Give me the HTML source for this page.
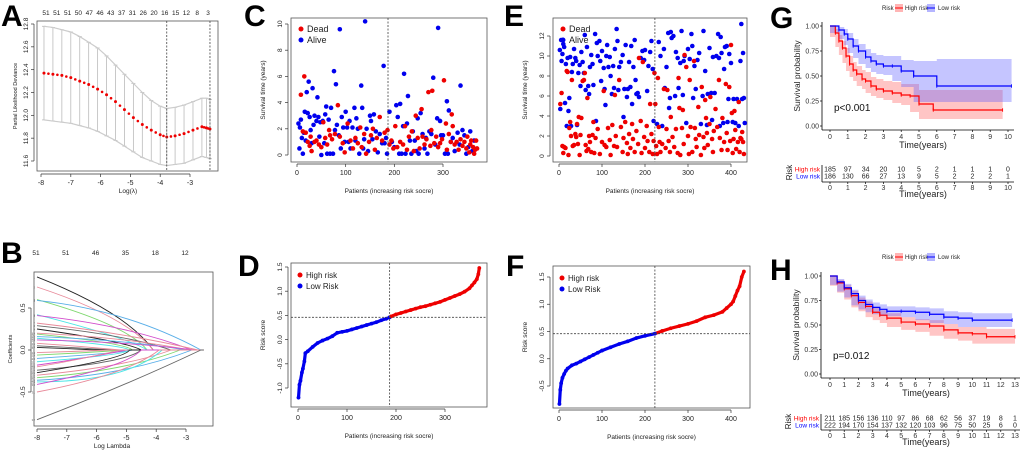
<!DOCTYPE html>
<html><head><meta charset="utf-8"><style>
html,body{margin:0;padding:0;background:#fff;width:1020px;height:450px;overflow:hidden}
svg{display:block;font-family:"Liberation Sans",Arial,sans-serif}
</style></head><body>
<svg id="fig" width="1020" height="450" viewBox="0 0 1020 450"></svg>
<script>
// ---------- DATA ----------
const lamA=[-7.9,-7.6,-7.3,-7.0,-6.7,-6.4,-6.1,-5.8,-5.5,-5.2,-4.9,-4.6,-4.3,-4.0,-3.78,-3.5,-3.2,-2.9,-2.6,-2.45,-2.33];
const meanA=[12.37,12.36,12.35,12.33,12.3,12.27,12.23,12.18,12.12,12.05,11.98,11.92,11.87,11.83,11.81,11.82,11.84,11.87,11.9,11.89,11.88];
const upA=[12.78,12.77,12.75,12.73,12.69,12.64,12.59,12.52,12.44,12.36,12.28,12.2,12.13,12.08,12.06,12.07,12.09,12.12,12.15,12.15,12.14];
const loA=[11.96,11.95,11.94,11.93,11.91,11.89,11.86,11.82,11.78,11.73,11.68,11.63,11.6,11.57,11.56,11.57,11.58,11.61,11.64,11.63,11.62];
const dfA=["51","51","51","50","47","46","43","37","31","26","20","16","15","12","8","3"];
const vlinesA=[-3.78,-2.33];
const startB=[0.87,0.75,0.6,0.59,0.42,0.41,0.32,0.29,0.25,0.2,0.19,0.16,0.14,0.12,0.08,0.05,0.03,-0.03,-0.06,-0.1,-0.14,-0.18,-0.2,-0.24,-0.27,-0.3,-0.33,-0.36,-0.38,-0.41,-0.5,-0.83];
const midB=[0.45,0.4,0.3,0.48,0.15,0.3,0.2,0.18,0.1,0.15,0.08,0.12,0.05,0.1,0.03,0.02,0,0,-0.02,-0.03,-0.06,-0.05,-0.04,-0.15,-0.1,-0.2,-0.25,-0.3,-0.38,-0.2,-0.3,-0.42];
const zeroB=[-4.1,-4.1,-4.3,-2.5,-4.3,-2.8,-2.6,-3.5,-4.5,-2.9,-4.8,-3,-4.9,-2.7,-5.2,-5.5,-6,-5.5,-5,-4.8,-4.9,-5,-5.2,-4.5,-4.9,-3.5,-3.2,-2.8,-3.8,-4.5,-3.9,-2.5];
const dfB=["51","51","46","35","18","12"];
const cAlive=[3,2.4,5,0.5,6,2.1,8,2.7,10,1.3,12,0.1,14,1.7,16,3.3,18,1.1,20,4.8,22,3.2,24,5.6,26,2.9,28,1.9,30,0.9,32,5.1,34,2.3,36,3.0,40,2.6,42,4.4,44,2.9,46,1.4,48,2.5,50,0.0,53,2.6,56,0.9,58,3.1,60,3.7,62,0.1,65,2.7,68,0.1,70,3.6,74,0.1,76,6.4,78,1.9,80,5.4,82,2.3,86,1.5,88,9.6,90,0.5,92,2.9,95,2.1,98,1.0,100,3.3,103,2.1,106,1.0,108,2.6,110,0.5,114,2.1,118,3.6,120,1.1,122,2.8,125,2.0,128,0.1,132,5.3,134,3.6,136,0.5,138,1.2,140,10.2,143,2.0,146,0.3,150,3.0,152,2.6,155,1.2,158,3.1,162,1.8,166,0.2,170,1.6,175,0.9,178,6.8,180,0.9,183,1.3,185,0.1,190,3.3,195,1.0,200,0.6,204,3.8,207,2.9,210,0.1,212,3.9,215,0.1,218,2.2,220,6.2,223,0.1,226,2.4,228,4.5,232,1.1,235,0.1,238,1.8,242,1.1,245,0.3,248,2.8,250,0.1,254,3.2,258,1.6,262,0.5,265,1.3,268,0.1,272,1.8,276,1.6,280,5.9,284,0.8,288,2.8,290,9.7,294,2.6,296,1.5,300,1.5,304,0.1,308,4.1,310,0.1,312,3.4,316,1.0,320,1.3,324,0.3,330,1.7,334,0.8,336,5.3,340,1.9,344,1.5,348,0.1,352,0.6,356,1.8,360,0.3,364,1.1];
const cDead=[8,4.6,12,1.8,15,6.0,18,1.7,22,1.0,26,0.7,28,1.4,30,0.3,36,1.0,40,1.1,45,0.8,50,0.6,54,2.5,58,1.3,62,0.8,66,1.9,68,1.5,72,1.2,78,1.6,84,3.8,88,1.4,94,0.9,98,0.2,104,2.4,110,1.1,115,0.5,120,1.3,125,0.9,130,2.1,133,0.6,138,1.6,142,0.1,148,1.0,152,1.5,156,2.0,160,0.4,164,1.3,170,2.9,175,1.1,180,1.7,186,1.9,190,0.8,194,1.1,198,0.5,202,2.2,206,0.6,212,1.0,218,0.8,222,2.2,226,0.4,230,1.4,236,1.8,240,0.3,244,3.0,248,1.3,252,0.5,256,3.5,258,1.4,262,0.8,266,1.2,270,4.8,274,0.7,276,1.9,278,4.9,282,0.9,286,1.4,290,0.6,294,0.9,298,1.2,302,5.7,306,2.4,308,0.4,312,1.6,316,1.0,318,3.1,320,2.2,324,0.8,328,1.0,332,0.4,336,1.2,340,0.7,344,1.0,348,0.5,350,1.4,354,0.2,356,0.8,358,1.1,362,0.6,364,0.1,366,0.4,368,1.1,370,0.5];
const eAlive=[2,10.6,3,4.7,5,11.6,6,9.5,8,10.2,10,11.2,12,10.9,14,5.3,16,9.2,18,3.0,20,9.8,22,4.5,24,5.8,26,9.9,28,3.0,30,8.4,32,9.2,35,10.7,38,9.8,40,9.5,42,3.1,45,8.3,48,9.1,50,7.0,52,10.4,55,9.4,58,8.3,60,12.1,62,6.6,65,10.9,68,7.0,70,6.2,72,8.9,75,10.1,78,9.2,80,7.1,84,12.2,86,3.5,88,11.3,90,10.0,94,11.5,96,9.5,98,7.5,100,10.5,104,8.8,106,6.7,108,5.1,110,10.0,112,11.1,115,8.9,118,9.9,120,8.0,123,6.2,126,9.0,128,6.8,130,10.7,134,12.7,136,11.5,138,6.6,140,8.9,144,9.4,148,10.1,150,3.9,152,6.7,155,11.1,158,5.9,160,6.7,163,9.4,166,6.9,168,11.0,170,5.2,173,8.9,176,11.6,178,7.6,180,6.2,183,6.3,186,5.9,190,9.8,194,10.5,198,9.6,200,10.6,205,6.5,208,9.0,212,10.4,215,11.5,218,8.7,220,3.5,228,3.2,232,11.4,236,10.0,240,3.0,244,10.7,246,6.8,250,8.9,254,12.3,256,4.8,258,5.8,260,12.4,262,11.8,266,12.0,270,6.0,272,10.4,276,9.8,278,6.8,282,9.3,285,12.5,288,6.1,290,9.5,292,10.0,296,3.3,300,10.7,304,9.7,308,12.2,310,11.0,312,5.8,315,9.0,318,6.7,322,9.6,326,10.3,330,3.2,334,6.0,336,12.5,340,8.5,344,3.1,346,6.2,350,10.8,354,6.3,356,3.6,358,9.9,362,6.3,366,10.0,370,12.2,372,9.8,374,3.0,376,11.9,378,10.3,382,3.3,384,8.7,386,10.9,390,11.0,392,3.4,394,5.7,396,10.2,400,9.3,404,3.4,406,5.7,410,3.3,414,5.7,418,3.0,422,9.5,424,13.2,426,5.7,428,10.3,430,5.8,432,3.3];
const eDead=[3,5.2,6,6.3,8,1.0,10,0.3,12,0.9,15,0.8,18,8.5,20,8.4,22,0.1,24,2.8,26,3.4,28,2.0,30,7.6,32,1.0,35,1.1,38,2.2,40,1.9,42,3.2,44,1.2,46,3.9,48,0.1,50,2.1,52,3.8,55,7.5,58,7.6,60,8.3,62,1.1,64,0.5,66,5.8,68,0.7,70,2.0,72,1.4,75,0.4,78,2.1,80,3.4,82,0.3,85,1.8,90,2.7,95,0.2,100,1.4,104,6.5,106,1.1,110,0.9,114,2.8,118,1.6,120,0.1,124,3.1,128,1.0,130,6.1,132,2.0,135,0.9,140,7.6,144,2.9,148,0.4,150,1.8,154,3.4,158,1.3,160,0.2,163,2.2,166,0.8,170,3.2,172,1.7,176,0.4,180,2.5,184,1.2,186,9.8,190,3.5,192,0.3,195,9.4,198,1.9,200,0.8,204,3.0,206,1.5,210,0.4,212,5.2,215,2.2,218,0.2,220,1.5,222,8.3,224,5.2,226,1.0,228,0.2,230,7.8,232,2.9,234,1.4,236,0.4,240,1.2,244,6.7,248,0.8,250,2.7,252,6.6,255,1.5,258,0.4,260,3.9,264,1.9,268,0.9,272,2.7,276,0.3,278,7.8,280,4.8,282,0.1,286,2.8,288,4.6,290,1.2,292,10.1,296,8.9,300,2.0,302,0.2,304,7.6,306,2.9,310,0.4,314,9.5,316,2.8,318,1.7,320,0.9,324,4.9,326,2.1,330,0.1,332,6.9,336,1.9,338,0.8,340,5.6,342,3.8,344,2.3,346,1.1,350,3.2,352,5.9,356,1.7,358,0.4,360,2.5,364,4.7,368,2.9,372,7.6,374,1.8,378,0.6,380,3.8,384,1.4,388,7.2,390,2.3,392,0.6,396,6.9,398,1.5,400,11.1,402,4.3,404,0.3,406,1.7,408,4.5,410,2.6,412,0.7,416,1.4,418,5.4,420,0.4,422,1.8,424,1.7,426,2.4,428,1.4,430,0.2];
const dIdx=[1,3,5,8,10,13,15,20,30,40,50,60,70,80,90,100,110,120,130,140,150,160,170,180,187,190,200,210,220,230,240,250,260,270,280,290,300,310,320,330,340,350,355,360,365,368,370];
const dVal=[-1.2,-0.93,-0.85,-0.68,-0.6,-0.45,-0.28,-0.24,-0.15,-0.07,-0.02,0.02,0.07,0.14,0.16,0.18,0.21,0.24,0.27,0.3,0.33,0.36,0.40,0.43,0.46,0.48,0.52,0.55,0.58,0.61,0.64,0.67,0.69,0.72,0.75,0.78,0.82,0.86,0.90,0.94,0.99,1.06,1.12,1.18,1.25,1.35,1.48];
const dCut=187, dThr=0.46;
const fIdx=[1,3,5,8,12,16,20,30,40,50,60,70,80,90,100,120,140,160,180,200,223,240,260,280,300,320,340,360,380,390,400,405,410,415,420,425,430];
const fVal=[-0.83,-0.57,-0.45,-0.35,-0.28,-0.22,-0.18,-0.12,-0.09,-0.05,-0.01,0.03,0.07,0.11,0.15,0.21,0.27,0.32,0.38,0.42,0.46,0.51,0.56,0.60,0.64,0.69,0.76,0.80,0.86,0.93,1.0,1.05,1.15,1.25,1.33,1.5,1.6];
const fCut=223, fThr=0.46;
const gHiT=[0,0.3,0.5,0.7,0.9,1.1,1.3,1.5,1.8,2,2.3,2.6,3,3.5,4,4.5,5,5.8,9.7];
const gHiS=[1,.93,.85,.78,.7,.62,.56,.52,.47,.45,.4,.37,.35,.33,.31,.3,.22,.16,.16];
const gHiU=[1,.97,.91,.85,.78,.7,.64,.6,.56,.54,.49,.47,.45,.44,.42,.42,.36,.36,.36];
const gHiL=[1,.89,.79,.71,.63,.55,.49,.45,.4,.37,.33,.3,.28,.26,.23,.21,.14,.07,.07];
const gLoT=[0,0.5,0.8,1,1.3,1.6,2,2.3,2.6,3,3.5,4,4.7,6,10.2];
const gLoS=[1,.96,.92,.87,.8,.75,.69,.65,.62,.6,.6,.55,.5,.4,.4];
const gLoU=[1,.99,.97,.93,.87,.82,.77,.73,.71,.7,.7,.66,.65,.67,.67];
const gLoL=[1,.93,.87,.81,.73,.68,.62,.58,.54,.52,.51,.45,.39,.24,.24];
const hHiT=[0,0.5,1,1.5,2,2.5,3,3.5,4,5,6,7,8,9,10,11,13];
const hHiS=[1,.93,.87,.8,.73,.69,.63,.6,.57,.53,.51,.49,.45,.42,.41,.38,.38];
const hHiU=[1,.96,.91,.85,.78,.74,.68,.65,.62,.58,.56,.55,.51,.48,.48,.46,.46];
const hHiL=[1,.9,.83,.76,.68,.64,.58,.55,.52,.48,.45,.43,.39,.36,.34,.31,.31];
const hLoT=[0,0.5,1,1.5,2,2.5,3,3.5,4,5,6,7,8,9,10,12.8];
const hLoS=[1,.94,.88,.82,.75,.71,.68,.66,.64,.64,.63,.61,.58,.57,.55,.55];
const hLoU=[1,.97,.92,.86,.8,.76,.73,.71,.69,.69,.68,.67,.64,.63,.62,.62];
const hLoL=[1,.91,.84,.78,.7,.66,.63,.61,.59,.59,.58,.55,.52,.51,.48,.48];
const gRiskHi=["185","97","34","20","10","5","2","1","1","1","0"];
const gRiskLo=["186","130","66","27","13","9","5","2","2","2","1"];
const hRiskHi=["211","185","156","136","110","97","86","68","62","56","37","19","8","1"];
const hRiskLo=["222","194","170","154","137","132","120","103","96","75","50","25","6","0"];

// ---------- HELPERS ----------
const NS="http://www.w3.org/2000/svg";
const svg=document.getElementById('fig');
function el(tag,attrs,name,parent){
  const e=document.createElementNS(NS,tag);
  for(const k in attrs) e.setAttribute(k,attrs[k]);
  
  
  (parent||svg).appendChild(e);
  return e;
}
function tx(x,y,s,size,name,o){
  o=o||{};
  const a={x:x,y:y,'font-size':size,fill:o.fill||'#222','text-anchor':o.anchor||'middle'};
  if(o.bold) a['font-weight']='bold';
  if(o.rot!==undefined) a.transform='rotate('+o.rot+' '+x+' '+y+')';
  const t=el('text',a,name);
  t.textContent=s;
  return t;
}
function lin(d0,d1,r0,r1){return v=>r0+(v-d0)*(r1-r0)/(d1-d0);}
function line(x1,y1,x2,y2,name,st,w,dash){const a={x1:x1,y1:y1,x2:x2,y2:y2,stroke:st||'#333','stroke-width':w||0.7};if(dash)a['stroke-dasharray']=dash;return el('line',a,name);}
function box(x0,y0,x1,y1,name){el('rect',{x:x0,y:y0,width:x1-x0,height:y1-y0,fill:'none',stroke:'#555','stroke-width':0.8},name);}
function rXaxis(sx,ticks,yb,name){
  line(sx(ticks[0]),yb,sx(ticks[ticks.length-1]),yb,name+'-line','#333',0.7);
  ticks.forEach(t=>{line(sx(t),yb,sx(t),yb+3,name+'-tick','#333',0.7);tx(sx(t),yb+11,String(t),7,name+'-label');});
}
function rYaxis(sy,ticks,xl,name,fmt){
  line(xl,sy(ticks[0]),xl,sy(ticks[ticks.length-1]),name+'-line','#333',0.7);
  ticks.forEach(t=>{line(xl,sy(t),xl-3,sy(t),name+'-tick','#333',0.7);tx(xl-6,sy(t),fmt?fmt(t):String(t),6.5,name+'-label',{rot:-90});});
}
function letter(x,y,s){tx(x,y,s,30,'panel-label-'+s.toLowerCase(),{bold:true,anchor:'start',fill:'#000'});}

// ---------- PANEL A ----------
(function(){
  letter(1,26,'A');
  const sx=lin(-8,-3,41,190), sy=lin(12.8,11.6,24,161);
  box(37,21,218,171,'plot-frame-a');
  for(let i=0;i<lamA.length;i++){
    const x=sx(lamA[i]);
    line(x,sy(upA[i]),x,sy(loA[i]),'error-bar','#bbb',0.8);
    line(x-2,sy(upA[i]),x+2,sy(upA[i]),'error-cap','#bbb',0.8);
    line(x-2,sy(loA[i]),x+2,sy(loA[i]),'error-cap','#bbb',0.8);
  }
  let pu='',pl='';
  for(let i=0;i<lamA.length;i++){pu+=(i?'L':'M')+sx(lamA[i])+' '+sy(upA[i]);pl+=(i?'L':'M')+sx(lamA[i])+' '+sy(loA[i]);}
  el('path',{d:pu,fill:'none',stroke:'#ccc','stroke-width':1.2},'upper-bound-a');
  el('path',{d:pl,fill:'none',stroke:'#ccc','stroke-width':1.2},'lower-bound-a');
  for(let i=0;i<lamA.length;i++){
    el('circle',{cx:sx(lamA[i]),cy:sy(meanA[i]),r:1.5,fill:'#e00'},'deviance-point');
  }
  for(let i=0;i<lamA.length-1;i++){
    const xm=(sx(lamA[i])+sx(lamA[i+1]))/2, ym=(sy(meanA[i])+sy(meanA[i+1]))/2;
    el('circle',{cx:xm,cy:ym,r:1.3,fill:'#e00'},'deviance-point');
  }
  vlinesA.forEach(v=>line(sx(v),21,sx(v),171,'lambda-line','#444',0.8,'2,1.5'));
  rXaxis(sx,[-8,-7,-6,-5,-4,-3],174,'x-axis-a');
  rYaxis(sy,[11.6,11.8,12.0,12.2,12.4,12.6,12.8],34,'y-axis-a',t=>t.toFixed(1));
  dfA.forEach((d,i)=>tx(46+i*(162/(dfA.length-1)),15,d,6.5,'df-label-a'));
  tx(128,193,'Log(λ)',6.5,'x-axis-title-a');
  tx(17,96,'Partial Likelihood Deviance',5.5,'y-axis-title-a',{rot:-90});
})();

// ---------- PANEL B ----------
(function(){
  letter(1,263,'B');
  const sx=lin(-8,-3,37,186), sy=lin(0.5,-0.5,308,392);
  box(34,272,213,426,'plot-frame-b');
  const cols=['#222','#e88a9a','#7fd86f','#58aee8','#4ee6e6','#d24dcc','#e88a9a','#666'];
  for(let i=0;i<startB.length;i++){
    const z=zeroB[i];
    const cx=z>-5?-5:(-8+z)/2, cy=z>-5?midB[i]:startB[i]*0.6;
    let d='M'+sx(-8)+' '+sy(startB[i])+' Q'+sx(cx)+' '+sy(cy)+' '+sx(z)+' '+sy(0)+' L'+sx(-2.4)+' '+sy(0);
    el('path',{d:d,fill:'none',stroke:cols[i%cols.length],'stroke-width':0.9},'coefficient-path');
    tx(sx(-8)-2,sy(startB[i])+1.5,String(i+1),3,'path-label',{anchor:'end',fill:'#666'});
  }
  rXaxis(sx,[-8,-7,-6,-5,-4,-3],429,'x-axis-b');
  rYaxis(sy,[-0.5,0,0.5],31,'y-axis-b',t=>t.toFixed(1));
  dfB.forEach((d,i)=>tx(36+i*29.8,255,d,6.5,'df-label-b'));
  tx(112,448,'Log Lambda',6.5,'x-axis-title-b');
  tx(12,349,'Coefficients',5.5,'y-axis-title-b',{rot:-90});
})();

// ---------- SCATTER PANELS C & E ----------
function scatter(o){
  letter(o.lx,o.ly,o.L);
  const sx=lin(0,o.xref,o.x0,o.x1), sy=lin(0,o.yref,o.y0,o.y1);
  box(o.bx0,o.by0,o.bx1,o.by1,'plot-frame-'+o.id);
  for(let i=0;i<o.alive.length;i+=2) el('circle',{cx:sx(o.alive[i]),cy:sy(o.alive[i+1]),r:2.3,fill:'#0000ee'},'alive-point');
  for(let i=0;i<o.dead.length;i+=2) el('circle',{cx:sx(o.dead[i]),cy:sy(o.dead[i+1]),r:2.3,fill:'#ee0000'},'dead-point');
  line(sx(o.cut),o.by0,sx(o.cut),o.by1,'cutoff-line','#444',0.8,'2,1.5');
  rXaxis(sx,o.xt,o.by1+2,'x-axis-'+o.id);
  rYaxis(sy,o.yt,o.bx0-3,'y-axis-'+o.id);
  el('circle',{cx:o.bx0+10,cy:o.by0+11,r:2.5,fill:'#ee0000'},'legend-dead-marker');
  tx(o.bx0+16,o.by0+14,'Dead',9,'legend-dead-label',{anchor:'start'});
  el('circle',{cx:o.bx0+10,cy:o.by0+22,r:2.5,fill:'#0000ee'},'legend-alive-marker');
  tx(o.bx0+16,o.by0+25,'Alive',9,'legend-alive-label',{anchor:'start'});
  tx((o.bx0+o.bx1)/2,o.by1+31,'Patients (increasing risk socre)',6.5,'x-axis-title-'+o.id);
  tx(o.bx0-26,(o.by0+o.by1)/2,'Survival time (years)',6.5,'y-axis-title-'+o.id,{rot:-90});
}
scatter({id:'c',L:'C',lx:244,ly:26,xref:300,x0:297,x1:443,yref:10,y0:155,y1:24,bx0:291,by0:18,bx1:487,by1:162,alive:cAlive,dead:cDead,cut:187,xt:[0,100,200,300],yt:[0,2,4,6,8,10]});
scatter({id:'e',L:'E',lx:504,ly:26,xref:400,x0:559,x1:731,yref:12,y0:156,y1:36,bx0:553,by0:18,bx1:747,by1:162,alive:eAlive,dead:eDead,cut:223,xt:[0,100,200,300,400],yt:[0,2,4,6,8,10,12]});

// ---------- RISK SCORE PANELS D & F ----------
function riskPlot(o){
  letter(o.lx,o.ly,o.L);
  const sx=lin(0,o.xref,o.x0,o.x1), sy=lin(o.yr[0],o.yr[1],o.y0,o.y1);
  box(o.bx0,o.by0,o.bx1,o.by1,'plot-frame-'+o.id);
  let dl='',dh='';
  for(let i=0;i<o.idx.length;i++){
    const p=sx(o.idx[i])+' '+sy(o.val[i]);
    if(o.idx[i]<=o.cut) dl+=(dl?'L':'M')+p;
    if(o.idx[i]>=o.cut) dh+=(dh?'L':'M')+p;
  }
  el('path',{d:dl,fill:'none',stroke:'#0000ee','stroke-width':3.2,'stroke-linecap':'round'},'low-risk-curve');
  el('path',{d:dh,fill:'none',stroke:'#ee0000','stroke-width':3.2,'stroke-linecap':'round'},'high-risk-curve');
  for(let i=0;i<o.idx.length;i++){
    el('circle',{cx:sx(o.idx[i]),cy:sy(o.val[i]),r:1.9,fill:o.idx[i]<=o.cut?'#0000ee':'#ee0000'},'risk-point');
  }
  line(sx(o.cut),o.by0,sx(o.cut),o.by1,'cutoff-vline','#444',0.8,'2,1.5');
  line(o.bx0,sy(o.thr),o.bx1,sy(o.thr),'cutoff-hline','#444',0.8,'2,1.5');
  rXaxis(sx,o.xt,o.by1+2,'x-axis-'+o.id);
  rYaxis(sy,o.yt,o.bx0-3,'y-axis-'+o.id,t=>t.toFixed(1));
  el('circle',{cx:o.bx0+9,cy:o.by0+12,r:2.5,fill:'#ee0000'},'legend-high-marker');
  tx(o.bx0+15,o.by0+15,'High risk',8,'legend-high-label',{anchor:'start'});
  el('circle',{cx:o.bx0+9,cy:o.by0+23,r:2.5,fill:'#0000ee'},'legend-low-marker');
  tx(o.bx0+15,o.by0+26,'Low Risk',8,'legend-low-label',{anchor:'start'});
  tx((o.bx0+o.bx1)/2,o.by1+31,'Patients (increasing risk socre)',6.5,'x-axis-title-'+o.id);
  tx(o.bx0-26,(o.by0+o.by1)/2,'Risk score',6.5,'y-axis-title-'+o.id,{rot:-90});
}
riskPlot({id:'d',L:'D',lx:238,ly:276,xref:300,x0:298,x1:445,yr:[1.5,-1.0],y0:267,y1:388,bx0:291,by0:263,bx1:487,by1:407,idx:dIdx,val:dVal,cut:dCut,thr:dThr,xt:[0,100,200,300],yt:[-1.0,-0.5,0.0,0.5,1.0,1.5]});
riskPlot({id:'f',L:'F',lx:506,ly:276,xref:400,x0:559,x1:731,yr:[1.5,-0.5],y0:277,y1:386,bx0:553,by0:266,bx1:750,by1:408,idx:fIdx,val:fVal,cut:fCut,thr:fThr,xt:[0,100,200,300,400],yt:[-0.5,0.0,0.5,1.0,1.5]});

// ---------- KM PANELS G & H ----------
function stepPath(sx,sy,T,S){let d='M'+sx(T[0])+' '+sy(S[0]);for(let i=1;i<T.length;i++){d+='H'+sx(T[i])+'V'+sy(S[i]);}return d;}
function bandPath(sx,sy,T,U,Lo){
  let d='M'+sx(T[0])+' '+sy(U[0]);
  for(let i=1;i<T.length;i++) d+='H'+sx(T[i])+'V'+sy(U[i]);
  d+='V'+sy(Lo[T.length-1]);
  for(let i=T.length-1;i>0;i--) d+='V'+sy(Lo[i])+'H'+sx(T[i-1]);
  d+='V'+sy(Lo[0])+'Z';
  return d;
}
function km(o){
  letter(o.lx,o.ly,o.L);
  const sx=lin(0,o.tmax,o.x0,o.x1), sy=lin(1,0,o.y1,o.y0);
  el('path',{d:bandPath(sx,sy,o.hiT,o.hiU,o.hiL),fill:'rgba(255,90,90,0.35)',stroke:'none'},'high-risk-ci');
  el('path',{d:bandPath(sx,sy,o.loT,o.loU,o.loL),fill:'rgba(90,90,255,0.35)',stroke:'none'},'low-risk-ci');
  el('path',{d:stepPath(sx,sy,o.hiT,o.hiS),fill:'none',stroke:'#ff0000','stroke-width':1.2},'high-risk-curve');
  el('path',{d:stepPath(sx,sy,o.loT,o.loS),fill:'none',stroke:'#0000ff','stroke-width':1.2},'low-risk-curve');
  for(let i=1;i<o.hiT.length;i++){const x=sx(o.hiT[i]),y=sy(o.hiS[i]);line(x,y-1.8,x,y+1.8,'high-censor-mark','#f00',0.8);}
  for(let i=1;i<o.loT.length;i++){const x=sx(o.loT[i]),y=sy(o.loS[i]);line(x,y-1.8,x,y+1.8,'low-censor-mark','#00f',0.8);}
  line(o.ax,o.y1-4,o.ax,o.y0+4,'y-axis-line-'+o.id,'#000',0.8);
  line(o.ax,o.y0+4,o.x1+6,o.y0+4,'x-axis-line-'+o.id,'#000',0.8);
  [0,0.25,0.5,0.75,1].forEach(v=>{line(o.ax-2,sy(v),o.ax,sy(v),'y-tick-'+o.id,'#000',0.7);tx(o.ax-3,sy(v)+2.5,v.toFixed(2),7,'y-tick-label-'+o.id,{anchor:'end',fill:'#333'});});
  const yb=o.y0+4;
  for(let t=0;t<=o.tmax;t++){line(sx(t),yb,sx(t),yb+2,'x-tick-'+o.id,'#000',0.7);tx(sx(t),yb+9,String(t),7,'x-tick-label-'+o.id,{fill:'#333'});}
  tx((o.ax+o.x1)/2+8,yb+18,'Time(years)',9,'x-axis-title-'+o.id,{fill:'#222'});
  tx(o.ax-22,(o.y0+o.y1)/2,'Survival probability',8.5,'y-axis-title-'+o.id,{rot:-90,fill:'#222'});
  tx(o.ax+12,o.py,o.p,10,'p-value-'+o.id,{anchor:'start',fill:'#111'});
  tx(882,o.legY,'Risk',6,'legend-title-'+o.id,{anchor:'start'});
  el('rect',{x:895,y:o.legY-6,width:8,height:8,fill:'rgba(255,90,90,0.45)'},'legend-high-swatch');
  line(895,o.legY-2,903,o.legY-2,'legend-high-line','#f00',1);
  tx(905,o.legY,'High risk',6,'legend-high-label-'+o.id,{anchor:'start'});
  el('rect',{x:927,y:o.legY-6,width:8,height:8,fill:'rgba(90,90,255,0.45)'},'legend-low-swatch');
  line(927,o.legY-2,935,o.legY-2,'legend-low-line','#00f',1);
  tx(938,o.legY,'Low risk',6,'legend-low-label-'+o.id,{anchor:'start'});
  o.rHi.forEach((v,i)=>tx(sx(i),o.r1+2.5,v,7,'risk-table-high-'+o.id,{fill:'#222'}));
  o.rLo.forEach((v,i)=>tx(sx(i),o.r2+2.5,v,7,'risk-table-low-'+o.id,{fill:'#222'}));
  tx(o.ax-2,o.r1+2.5,'High risk',6.5,'risk-row-high-'+o.id,{anchor:'end',fill:'#f00'});
  tx(o.ax-2,o.r2+2.5,'Low risk',6.5,'risk-row-low-'+o.id,{anchor:'end',fill:'#00f'});
  tx(o.ax-30,(o.r1+o.r2)/2,'Risk',8,'risk-table-title-'+o.id,{rot:-90,fill:'#222'});
  line(o.ax,o.r1-4,o.ax,o.ta,'risk-table-yaxis-'+o.id,'#000',0.8);
  line(o.ax,o.ta,o.x1+6,o.ta,'risk-table-xaxis-'+o.id,'#000',0.8);
  for(let t=0;t<=o.tmax;t++){line(sx(t),o.ta,sx(t),o.ta+2,'risk-table-tick-'+o.id,'#000',0.7);tx(sx(t),o.ta+8,String(t),7,'risk-table-tick-label-'+o.id,{fill:'#333'});}
  tx((o.ax+o.x1)/2+8,o.ta+15,'Time(years)',9,'risk-table-x-title-'+o.id,{fill:'#222'});
}
km({id:'g',L:'G',lx:770,ly:28,tmax:10,x0:830,x1:1008,y0:126,y1:26,ax:822,hiT:gHiT,hiS:gHiS,hiU:gHiU,hiL:gHiL,loT:gLoT,loS:gLoS,loU:gLoU,loL:gLoL,p:'p<0.001',py:111,legY:10,rHi:gRiskHi,rLo:gRiskLo,r1:169,r2:176,ta:182});
km({id:'h',L:'H',lx:770,ly:280,tmax:13,x0:830,x1:1015,y0:374,y1:276,ax:821,hiT:hHiT,hiS:hHiS,hiU:hHiU,hiL:hHiL,loT:hLoT,loS:hLoS,loU:hLoU,loL:hLoL,p:'p=0.012',py:359,legY:259,rHi:hRiskHi,rLo:hRiskLo,r1:418,r2:425,ta:430});
</script>
</body></html>
